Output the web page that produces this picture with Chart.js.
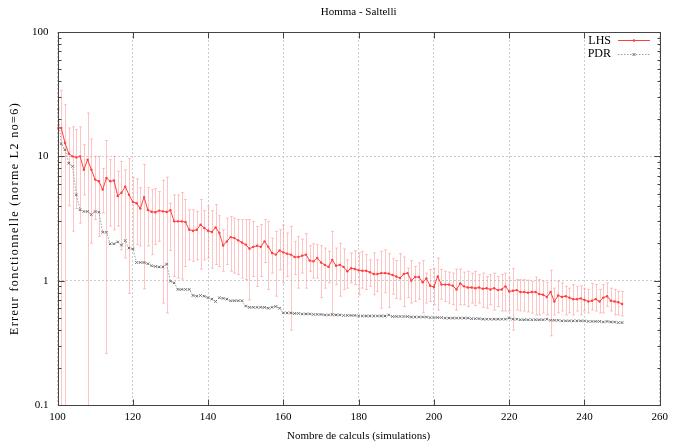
<!DOCTYPE html>
<html>
<head>
<meta charset="utf-8">
<script src="https://cdn.jsdelivr.net/npm/chart.js@4.4.1/dist/chart.umd.min.js"></script>
<style>
  body { margin: 0; background: #fff; }
  canvas { display: block; }
</style>
</head>
<body>
<canvas id="chart" width="674" height="445"></canvas>
<script>
// Nombre de calculs (abscisses)
const calculs = [
  100, 101, 102, 103, 104, 105, 106, 107, 108, 109,
  110, 111, 112, 113, 114, 115, 116, 117, 118, 119,
  120, 121, 122, 123, 124, 125, 126, 127, 128, 129,
  130, 131, 132, 133, 134, 135, 136, 137, 138, 139,
  140, 141, 142, 143, 144, 145, 146, 147, 148, 149,
  150, 151, 152, 153, 154, 155, 156, 157, 158, 159,
  160, 161, 162, 163, 164, 165, 166, 167, 168, 169,
  170, 171, 172, 173, 174, 175, 176, 177, 178, 179,
  180, 181, 182, 183, 184, 185, 186, 187, 188, 189,
  190, 191, 192, 193, 194, 195, 196, 197, 198, 199,
  200, 201, 202, 203, 204, 205, 206, 207, 208, 209,
  210, 211, 212, 213, 214, 215, 216, 217, 218, 219,
  220, 221, 222, 223, 224, 225, 226, 227, 228, 229,
  230, 231, 232, 233, 234, 235, 236, 237, 238, 239,
  240, 241, 242, 243, 244, 245, 246, 247, 248, 249,
  250
];

// LHS : erreur moyenne
const lhs = [
  16.9, 16.9, 12.8, 10.5, 10.0, 9.8, 10.0, 7.8, 9.4, 7.8,
  6.5, 6.3, 5.4, 6.7, 6.3, 6.4, 4.8, 5.1, 5.7, 4.9,
  4.3, 4.2, 3.8, 4.7, 3.7, 3.58, 3.55, 3.66, 3.61, 3.57,
  3.68, 3.0, 3.0, 3.0, 2.96, 2.57, 2.52, 2.57, 2.82, 2.65,
  2.52, 2.46, 2.68, 2.42, 1.92, 2.07, 2.24, 2.2, 2.11, 2.03,
  1.95, 1.81, 1.87, 1.91, 1.87, 2.07, 1.87, 1.67, 1.62, 1.75,
  1.69, 1.65, 1.62, 1.55, 1.55, 1.59, 1.62, 1.45, 1.43, 1.52,
  1.40, 1.34, 1.29, 1.47, 1.32, 1.34, 1.29, 1.19, 1.26, 1.24,
  1.21, 1.20, 1.20, 1.17, 1.13, 1.13, 1.15, 1.15, 1.14, 1.11,
  1.08, 1.05, 1.13, 1.15, 1.0, 1.07, 1.07, 0.97, 1.04, 0.91,
  0.89, 1.08, 0.93, 0.93, 0.93, 0.91, 0.85, 0.95, 0.90, 0.88,
  0.88, 0.87, 0.88, 0.86, 0.87, 0.85, 0.87, 0.84, 0.85, 0.90,
  0.82, 0.83, 0.84, 0.81, 0.81, 0.80, 0.81, 0.81, 0.78, 0.77,
  0.74, 0.81, 0.68, 0.76, 0.74, 0.75, 0.73, 0.71, 0.71, 0.72,
  0.70, 0.68, 0.69, 0.71, 0.68, 0.73, 0.75, 0.69, 0.68, 0.67,
  0.65
];

// LHS : bornes hautes des barres d'erreur
const lhsHaut = [
  24, 34, 26, 16.9, 17.3, 16.4, 17.3, 12.4, 22.3, 13.8,
  10, 10, 8.0, 13.4, 9.4, 10, 7.6, 9.1, 7.8, 9.6,
  6.8, 6.6, 5.6, 8.6, 5.6, 5.4, 5.5, 5.2, 6.4, 6.8,
  4.2, 4.9, 4.9, 5.1, 4.5, 3.72, 3.72, 3.61, 4.5, 3.66,
  3.96, 3.66, 4.1, 3.33, 2.57, 3.19, 3.29, 3.19, 3.1, 3.1,
  3.1, 3.1, 3.0, 2.73, 2.82, 3.1, 3.0, 2.2, 2.49, 2.57,
  2.8, 2.42, 2.73, 2.07, 2.27, 2.16, 2.39, 1.91, 1.98, 1.95,
  1.91, 1.83, 1.72, 2.49, 1.83, 2.0, 1.80, 1.47, 1.67, 1.74,
  1.67, 1.72, 1.62, 1.47, 1.67, 1.47, 1.72, 1.77, 1.65, 1.5,
  1.45, 1.65, 1.55, 1.26, 1.45, 1.30, 1.39, 1.45, 1.15, 1.23,
  1.26, 1.52, 1.23, 1.19, 1.17, 1.15, 1.24, 1.24, 1.17, 1.19,
  1.15, 1.19, 1.12, 1.15, 1.08, 1.12, 1.15, 1.08, 1.12, 1.15,
  1.05, 1.25, 1.02, 1.02, 1.02, 1.01, 0.99, 1.07, 1.02, 0.99,
  0.97, 1.21, 0.87, 0.99, 0.96, 0.90, 0.87, 0.93, 0.90, 0.91,
  0.87, 0.85, 0.95, 0.93, 0.85, 0.93, 0.96, 0.87, 0.85, 0.82,
  0.82
];

// LHS : bornes basses (0 = sous l'axe)
const lhsBas = [
  4.6, 0, 0, 4.0, 2.5, 3.8, 2.9, 4.9, 0, 2.0,
  3.1, 2.27, 3.5, 0.26, 2.75, 2.57, 2.75, 1.77, 1.52, 0.79,
  1.8, 1.95, 1.9, 0.86, 1.9, 1.62, 1.95, 2.07, 0.66, 0.55,
  1.75, 1.08, 1.05, 1.03, 1.30, 1.47, 1.43, 1.47, 1.24, 1.47,
  1.52, 1.26, 1.35, 1.30, 1.19, 1.35, 1.19, 1.15, 1.12, 1.05,
  1.02, 0.70, 1.08, 0.90, 1.08, 1.40, 0.85, 1.15, 0.75, 1.22,
  0.96, 1.08, 0.40, 1.12, 0.87, 1.15, 0.87, 1.19, 1.05, 1.05,
  0.73, 0.87, 0.96, 0.52, 0.93, 0.75, 0.85, 0.87, 0.96, 0.93,
  0.77, 0.87, 0.85, 0.90, 0.77, 0.82, 0.60, 0.80, 0.61, 0.78,
  0.72, 0.71, 0.62, 0.73, 0.66, 0.68, 0.71, 0.55, 0.66, 0.68,
  0.64, 0.58, 0.71, 0.68, 0.66, 0.64, 0.58, 0.64, 0.64, 0.62,
  0.66, 0.63, 0.66, 0.61, 0.60, 0.64, 0.58, 0.62, 0.57, 0.57,
  0.57, 0.40, 0.58, 0.57, 0.57, 0.56, 0.55, 0.53, 0.53, 0.55,
  0.53, 0.36, 0.53, 0.55, 0.57, 0.53, 0.55, 0.53, 0.57, 0.53,
  0.57, 0.55, 0.58, 0.57, 0.55, 0.55, 0.62, 0.57, 0.53, 0.53,
  0.52
];

// PDR
const pdr = [
  24, 12.6, 11.3, 8.8, 8.3, 4.9, 3.72, 3.6, 3.6, 3.4,
  3.6, 3.55, 2.45, 2.45, 1.98, 1.98, 2.05, 1.93, 2.1, 1.83,
  1.8, 1.40, 1.40, 1.40, 1.37, 1.32, 1.30, 1.29, 1.29, 1.36,
  0.99, 0.96, 0.85, 0.85, 0.85, 0.85, 0.76, 0.75, 0.76, 0.75,
  0.73, 0.71, 0.68, 0.73, 0.72, 0.71, 0.69, 0.69, 0.69, 0.69,
  0.625, 0.61, 0.61, 0.61, 0.61, 0.61, 0.60, 0.61, 0.62, 0.60,
  0.55, 0.55, 0.55, 0.545, 0.545, 0.54, 0.54, 0.54, 0.535, 0.535,
  0.535, 0.53, 0.53, 0.535, 0.53, 0.53, 0.525, 0.525, 0.525, 0.525,
  0.52, 0.52, 0.52, 0.52, 0.52, 0.52, 0.52, 0.52, 0.53, 0.515,
  0.515, 0.515, 0.515, 0.515, 0.51, 0.51, 0.51, 0.51, 0.51, 0.505,
  0.505, 0.505, 0.505, 0.50, 0.50, 0.50, 0.50, 0.50, 0.50, 0.50,
  0.495, 0.495, 0.495, 0.49, 0.49, 0.49, 0.49, 0.49, 0.49, 0.49,
  0.50, 0.49, 0.49, 0.485, 0.485, 0.485, 0.485, 0.485, 0.485, 0.485,
  0.49, 0.48, 0.48, 0.48, 0.475, 0.475, 0.475, 0.475, 0.475, 0.475,
  0.475, 0.47, 0.47, 0.47, 0.47, 0.465, 0.47, 0.465, 0.465, 0.46,
  0.46
];

const yTicks = [0.1, 1, 10, 100];
const xTicks = [100, 120, 140, 160, 180, 200, 220, 240, 260];

const police = '"Liberation Serif", "Times New Roman", serif';
const rouge = '#ff4040';
const rose = 'rgba(255, 140, 140, 0.5)';
const gris = '#a0a0a0';
const grisMarque = '#707070';

// Barres d'erreur LHS
const barresErreur = {
    id: 'barresErreur',
    beforeDatasetsDraw(chart) {
        const { ctx, chartArea, scales: { x, y } } = chart;
        ctx.save();
        ctx.beginPath();
        ctx.rect(chartArea.left, chartArea.top, chartArea.width, chartArea.height);
        ctx.clip();
        ctx.strokeStyle = rose;
        ctx.lineWidth = 1;
        calculs.forEach((c, i) => {
            const px = Math.round(x.getPixelForValue(c)) + 0.5;
            const yHaut = y.getPixelForValue(lhsHaut[i]);
            const yBas = lhsBas[i] > 0 ? y.getPixelForValue(lhsBas[i]) : chartArea.bottom + 5;
            ctx.beginPath();
            ctx.moveTo(px, yHaut);
            ctx.lineTo(px, yBas);
            ctx.moveTo(px - 1.5, yHaut);
            ctx.lineTo(px + 1.5, yHaut);
            ctx.moveTo(px - 1.5, yBas);
            ctx.lineTo(px + 1.5, yBas);
            ctx.stroke();
        });
        ctx.restore();
    }
};

// Cadre, graduations internes, titres et légende façon gnuplot
const cadre = {
    id: 'cadre',
    afterDraw(chart) {
        const { ctx, chartArea: a, scales: { x, y } } = chart;
        ctx.save();
        ctx.strokeStyle = '#444';
        ctx.lineWidth = 1;
        const L = Math.round(a.left) + 0.5, R = Math.round(a.right) + 0.5;
        const T = Math.round(a.top) + 0.5, B = Math.round(a.bottom) + 0.5;
        ctx.strokeRect(L, T, R - L, B - T);

        ctx.beginPath();
        xTicks.forEach(v => {
            const px = Math.round(x.getPixelForValue(v)) + 0.5;
            ctx.moveTo(px, B); ctx.lineTo(px, B - 6);
            ctx.moveTo(px, T); ctx.lineTo(px, T + 6);
        });
        for (let d = 0.1; d < 100; d *= 10) {
            for (let k = 1; k <= 10; k++) {
                const py = Math.round(y.getPixelForValue(d * k)) + 0.5;
                const len = (k === 1 || k === 10) ? 6 : 3;
                ctx.moveTo(L, py); ctx.lineTo(L + len, py);
                ctx.moveTo(R, py); ctx.lineTo(R - len, py);
            }
        }
        ctx.stroke();

        // titre
        ctx.fillStyle = '#000';
        ctx.font = '11px ' + police;
        ctx.textAlign = 'center';
        ctx.textBaseline = 'middle';
        ctx.fillText('Homma - Saltelli', (a.left + a.right) / 2, 12);

        // titre de l'axe vertical (espacé comme l'original)
        ctx.save();
        ctx.translate(15, (a.top + a.bottom) / 2);
        ctx.rotate(-Math.PI / 2);
        ctx.font = '12px ' + police;
        ctx.letterSpacing = '1.4px';
        ctx.fillText('Erreur fonctionnelle (norme L2 no=6)', 0, 0);
        ctx.restore();

        // légende
        ctx.font = '12px ' + police;
        ctx.textAlign = 'right';
        ctx.fillText('LHS', 611, 41);
        ctx.fillText('PDR', 611, 54);

        ctx.strokeStyle = rouge;
        ctx.beginPath();
        ctx.moveTo(618, 40.5); ctx.lineTo(650, 40.5);
        ctx.stroke();
        ctx.fillStyle = rouge;
        ctx.beginPath();
        ctx.arc(634, 40.5, 1.3, 0, Math.PI * 2);
        ctx.fill();

        ctx.strokeStyle = gris;
        ctx.setLineDash([1.5, 1.5]);
        ctx.beginPath();
        ctx.moveTo(618, 54.5); ctx.lineTo(650, 54.5);
        ctx.stroke();
        ctx.setLineDash([]);
        ctx.strokeStyle = grisMarque;
        ctx.beginPath();
        ctx.moveTo(632.5, 53); ctx.lineTo(635.5, 56);
        ctx.moveTo(635.5, 53); ctx.lineTo(632.5, 56);
        ctx.stroke();
        ctx.restore();
    }
};

const ctx = document.getElementById('chart').getContext('2d');
new Chart(ctx, {
    type: 'line',
    data: {
        datasets: [{
            label: 'LHS',
            data: calculs.map((c, i) => ({ x: c, y: lhs[i] })),
            borderColor: rouge,
            borderWidth: 1,
            pointStyle: 'circle',
            pointRadius: 1.2,
            pointBackgroundColor: rouge,
            pointBorderWidth: 0,
            tension: 0
        }, {
            label: 'PDR',
            data: calculs.map((c, i) => ({ x: c, y: pdr[i] })),
            borderColor: gris,
            borderWidth: 1,
            borderDash: [1.5, 1.5],
            pointStyle: 'crossRot',
            pointRadius: 1.8,
            pointBorderColor: grisMarque,
            pointBorderWidth: 1,
            tension: 0
        }]
    },
    options: {
        responsive: false,
        animation: false,
        layout: { padding: { top: 32, right: 13, left: 0, bottom: 0 } },
        plugins: {
            legend: { display: false },
            tooltip: { enabled: false }
        },
        scales: {
            x: {
                type: 'linear',
                min: 100,
                max: 260,
                afterBuildTicks(scale) { scale.ticks = xTicks.map(v => ({ value: v })); },
                afterFit(scale) { scale.height = 40; },
                ticks: { color: '#000', font: { family: police, size: 11 }, padding: 6, maxRotation: 0 },
                grid: { color: '#cccccc', drawTicks: false },
                border: { display: false, dash: [2, 2] },
                title: {
                    display: true,
                    text: 'Nombre de calculs (simulations)',
                    color: '#000',
                    font: { family: police, size: 11 },
                    padding: { top: 0, bottom: 2 }
                }
            },
            y: {
                type: 'logarithmic',
                min: 0.1,
                max: 100,
                afterBuildTicks(scale) { scale.ticks = yTicks.map(v => ({ value: v })); },
                afterFit(scale) { scale.width = 57.5; },
                ticks: {
                    color: '#000',
                    font: { family: police, size: 11 },
                    padding: 9,
                    callback: v => String(v)
                },
                grid: { color: '#cccccc', drawTicks: false },
                border: { display: false, dash: [2, 2] }
            }
        }
    },
    plugins: [barresErreur, cadre]
});
</script>
</body>
</html>
